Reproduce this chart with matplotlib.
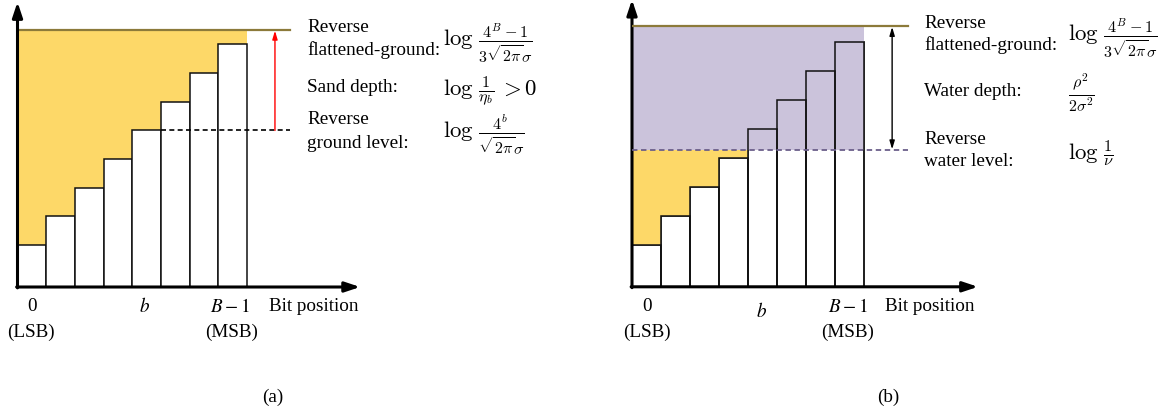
import matplotlib
matplotlib.use("Agg")
import matplotlib.pyplot as plt
import numpy as np

# ---------------- data ----------------
bit_heights_a = [1.46, 2.46, 3.46, 4.46, 5.46, 6.46, 7.46, 8.46]
ground_a = 8.96
b_index = 4

bit_heights_b = [1.45, 2.45, 3.45, 4.45, 5.45, 6.45, 7.45, 8.45]
ground_b = 8.98
water_level_b = 4.72

text_a = ["Reverse", "flattened-ground:", "Sand depth:", "Reverse", "ground level:"]
formula_a = [r"$\log\,\frac{4^B-1}{3\sqrt{2\pi}\sigma}$", r"$\log\,\frac{1}{\eta_b}\,>0$",
             r"$\log\,\frac{4^b}{\sqrt{2\pi}\sigma}$"]
text_b = ["Reverse", "flattened-ground:", "Water depth:", "Reverse", "water level:"]
formula_b = [r"$\log\,\frac{4^B-1}{3\sqrt{2\pi}\sigma}$", r"$\frac{\rho^2}{2\sigma^2}$",
             r"$\log\,\frac{1}{\nu}$"]

W, H = 1164, 414
SERIF = ["Liberation Serif", "DejaVu Serif"]
FS = 13.8
FS_MATH = 16.5
SAND = "#FDD868"
WATER = "#CBC3DB"
GROUND_C = "#8C7A3A"
WATER_C = "#6B5F8A"

fig = plt.figure(figsize=(W / 100, H / 100), dpi=100)


def make_ax(left_px, bottom_px, scale, xmax, ymax):
    ax = fig.add_axes([left_px / W, (H - bottom_px) / H,
                       xmax * scale / W, ymax * scale / H])
    ax.set_xlim(0, xmax)
    ax.set_ylim(0, ymax)
    ax.axis("off")
    return ax


def ftext(x, y, s, ha="left", va="center", size=FS, math="stix", **kw):
    fig.text(x / W, 1 - y / H, s, ha=ha, va=va, fontsize=size,
             family=SERIF, math_fontfamily=math, **kw)


def axes_arrows(ax, xtip, ytip):
    ax.annotate("", xy=(xtip, 0), xytext=(-0.03, 0), annotation_clip=False,
                arrowprops=dict(arrowstyle="-|>,head_length=0.9,head_width=0.3",
                                color="black", lw=2.2, shrinkA=0, shrinkB=0))
    ax.annotate("", xy=(0, ytip), xytext=(0, -0.03), annotation_clip=False,
                arrowprops=dict(arrowstyle="-|>,head_length=0.9,head_width=0.3",
                                color="black", lw=2.2, shrinkA=0, shrinkB=0))


# ---------------- panel (a) ----------------
axa = make_ax(17.5, 288, 28.67, 12.5, 10.0)
n = len(bit_heights_a)
xs = np.arange(n + 1)
tops_a = np.array(bit_heights_a + [bit_heights_a[-1]])
axa.fill_between(xs, tops_a, ground_a, step="post", color=SAND, lw=0, zorder=1)
axa.bar(np.arange(n), bit_heights_a, width=1.0, align="edge",
        facecolor="white", edgecolor="#111111", lw=1.1, zorder=2)
axa.plot([0, 9.5], [ground_a, ground_a], color=GROUND_C, lw=1.6, zorder=3)
axa.plot([b_index + 1, 9.5], [bit_heights_a[b_index]] * 2, color="black",
         lw=1.2, ls=(0, (3, 2)), zorder=3)
axa.annotate("", xy=(8.98, ground_a - 0.02), xytext=(8.98, bit_heights_a[b_index]),
             arrowprops=dict(arrowstyle="-|>,head_length=0.5,head_width=0.15",
                             color="red", lw=1.0, shrinkA=0, shrinkB=0), zorder=3)
axes_arrows(axa, 11.95, 9.94)

ys_a = [27, 50, 87, 120, 143]
for s, y in zip(text_a, ys_a):
    ftext(307, y, s)
for s, y in zip(formula_a, [46, 95, 138]):
    ftext(443, y, s, va="baseline", math="cm", size=FS_MATH)

ftext(32, 307, "0", ha="center")
ftext(31, 332, "(LSB)", ha="center")
ftext(145, 307, r"$b$", ha="center")
ftext(230, 307, r"$B-1$", ha="center")
ftext(232, 332, "(MSB)", ha="center")
ftext(269, 307, "Bit position")
ftext(273, 397, "(a)", ha="center")

# ---------------- panel (b) ----------------
axb = make_ax(632, 287.8, 29.0, 12.3, 9.9)
tops_b = np.array(bit_heights_b + [bit_heights_b[-1]])
axb.bar(np.arange(n), bit_heights_b, width=1.0, align="edge",
        facecolor="white", edgecolor="#333333", lw=1.1, zorder=1)
sand_top = np.where(tops_b < water_level_b, water_level_b, tops_b)
axb.fill_between(xs, tops_b, sand_top, step="post", color=SAND, lw=0, zorder=2)
axb.fill_between([0, n], [water_level_b] * 2, [ground_b] * 2, color=WATER, lw=0, zorder=2)
axb.bar(np.arange(n), bit_heights_b, width=1.0, align="edge",
        fill=False, edgecolor="#111111", lw=1.1, zorder=3)
axb.plot([0, 9.52], [ground_b, ground_b], color=GROUND_C, lw=1.6, zorder=4)
axb.plot([0, 9.52], [water_level_b] * 2, color=WATER_C, lw=1.3,
         ls=(0, (3, 2)), zorder=4)
axb.annotate("", xy=(8.97, water_level_b + 0.02), xytext=(8.97, ground_b - 0.02),
             arrowprops=dict(arrowstyle="<|-|>,head_length=0.5,head_width=0.15",
                             color="black", lw=1.0, shrinkA=0, shrinkB=0), zorder=4)
axes_arrows(axb, 11.93, 9.9)

ys_b = [24, 45, 92, 140, 162]
for s, y in zip(text_b, ys_b):
    ftext(924, y, s)
ftext(1068, 41, formula_b[0], va="baseline", math="cm", size=FS_MATH)
ftext(1068, 93, formula_b[1], va="center", math="cm", size=FS_MATH)
ftext(1068, 160, formula_b[2], va="baseline", math="cm", size=FS_MATH)

ftext(647, 307, "0", ha="center")
ftext(647, 332, "(LSB)", ha="center")
ftext(762, 312, r"$b$", ha="center")
ftext(848, 307, r"$B-1$", ha="center")
ftext(848, 332, "(MSB)", ha="center")
ftext(885, 307, "Bit position")
ftext(888, 397, "(b)", ha="center")

fig.savefig("out.png", dpi=100, facecolor="white")
